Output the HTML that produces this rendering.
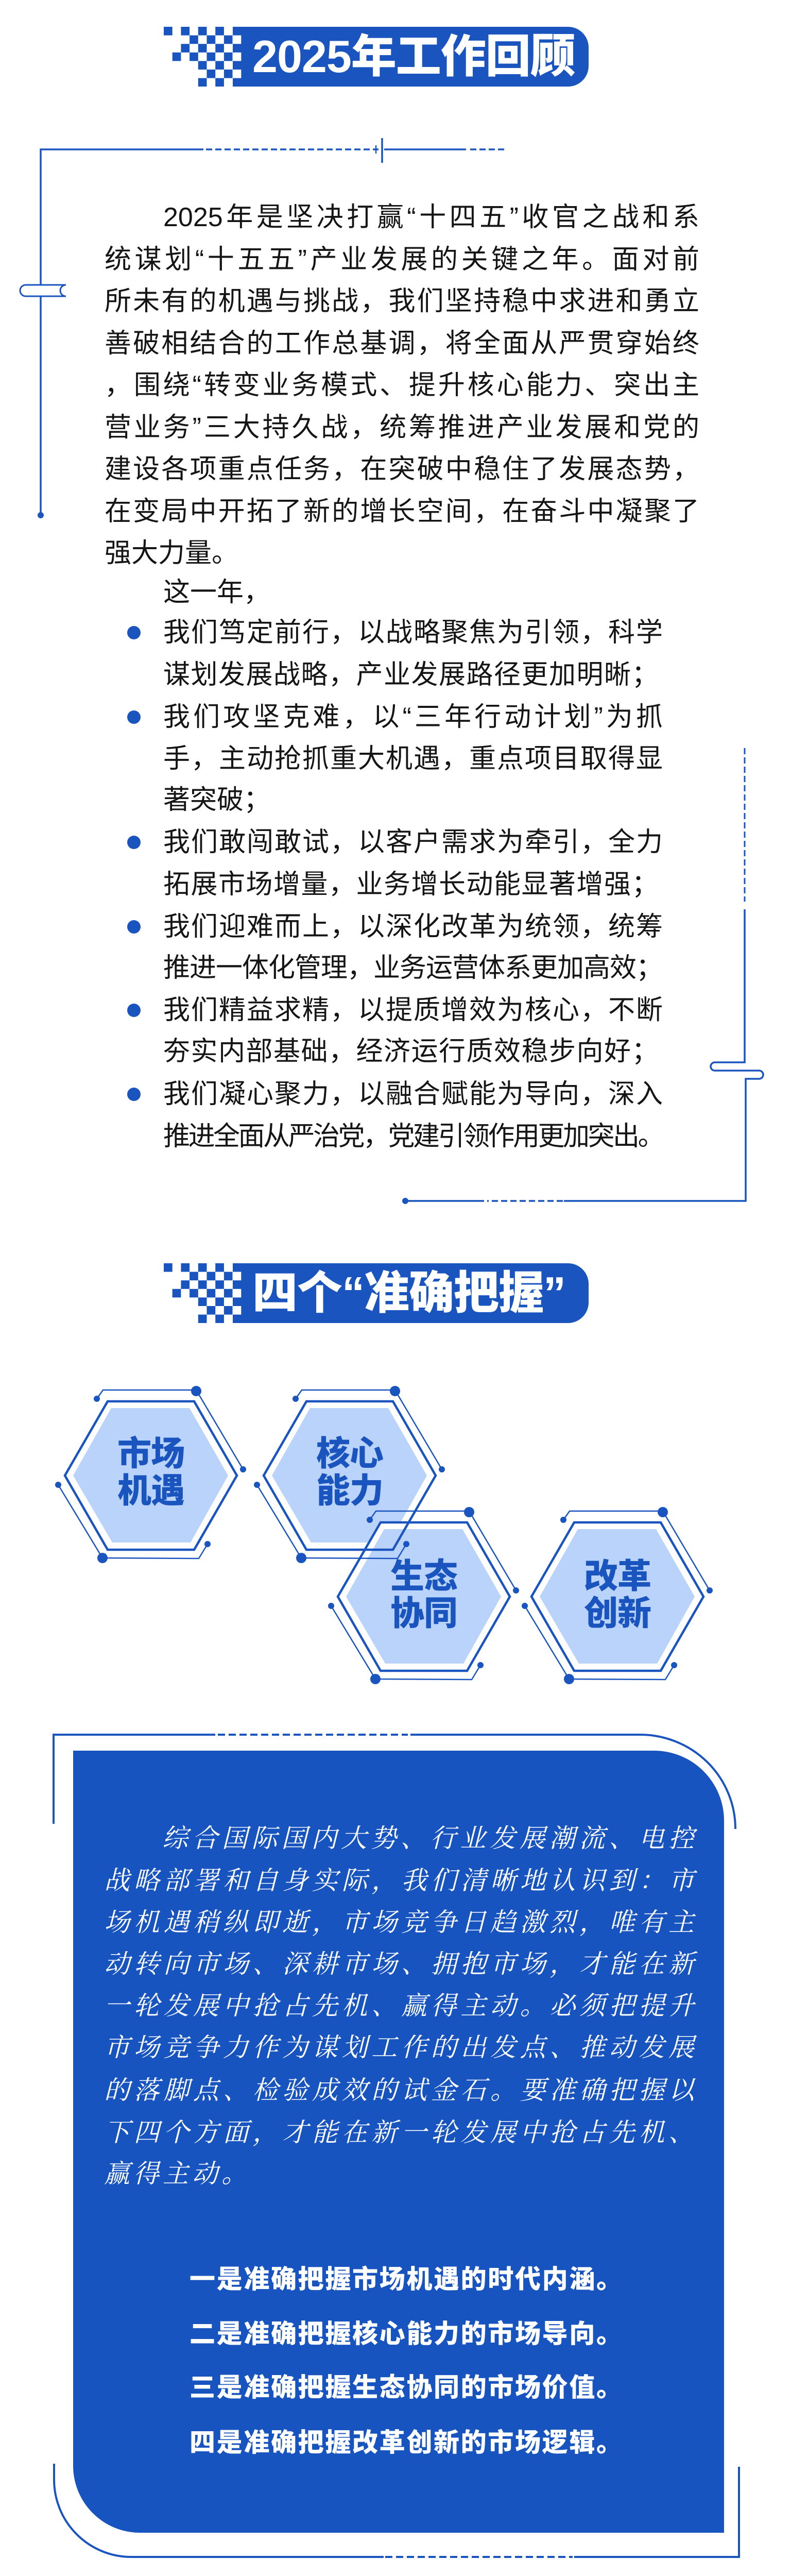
<!DOCTYPE html>
<html><head><meta charset="utf-8">
<style>
html{margin:0;padding:0;width:1536px;height:5045px;overflow:hidden;}
body{margin:0;padding:0;width:1536px;height:5045px;position:relative;background:#fff;overflow:hidden;font-family:"Liberation Sans","Noto Sans CJK SC",sans-serif;}
svg.bg{position:absolute;left:0;top:0;display:block;}
.t{position:absolute;white-space:nowrap;}
.p{font-size:52px;color:#151515;height:82px;line-height:82px;text-align:justify;text-align-last:justify;}
.p.l{text-align-last:left;}
.it{font-family:"Liberation Serif","Noto Serif CJK SC",serif;font-style:italic;font-size:50px;color:#fff;height:80px;line-height:80px;text-align:justify;text-align-last:justify;}
.it.l{text-align-last:left;}
.bd{font-weight:900;font-size:50px;color:#fff;height:80px;line-height:80px;text-align:justify;text-align-last:justify;width:840px;left:368px;}
.title{font-weight:900;color:#fff;font-size:88px;line-height:116px;height:116px;letter-spacing:-1px;}
.hx{font-weight:900;color:#1a55bf;font-size:66px;line-height:72px;text-align:center;width:200px;letter-spacing:-1px;}
</style></head><body>
<svg class="bg" width="1536" height="5045" viewBox="0 0 1536 5045">
<defs>
<g id="chk" fill="#1a55bf">
<path d="M134 0 H785 A40 40 0 0 1 825 40 V76 A40 40 0 0 1 785 116 H134 Z"/>
<rect x="0" y="0" width="16.7" height="16.6"/><rect x="33.4" y="0" width="16.7" height="16.6"/><rect x="66.8" y="0" width="16.7" height="16.6"/><rect x="100.2" y="0" width="16.7" height="16.6"/>
<rect x="50.1" y="16.6" width="16.7" height="16.6"/><rect x="83.5" y="16.6" width="16.7" height="16.6"/><rect x="116.9" y="16.6" width="16.7" height="16.6"/>
<rect x="33.4" y="33.2" width="16.7" height="16.6"/><rect x="66.8" y="33.2" width="16.7" height="16.6"/><rect x="100.2" y="33.2" width="16.7" height="16.6"/>
<rect x="16.7" y="49.8" width="16.7" height="16.6"/><rect x="50.1" y="49.8" width="16.7" height="16.6"/><rect x="83.5" y="49.8" width="16.7" height="16.6"/><rect x="116.9" y="49.8" width="16.7" height="16.6"/>
<rect x="66.8" y="66.4" width="16.7" height="16.6"/><rect x="100.2" y="66.4" width="16.7" height="16.6"/>
<rect x="83.5" y="83" width="16.7" height="16.6"/><rect x="116.9" y="83" width="16.7" height="16.6"/>
<rect x="66.8" y="99.6" width="16.7" height="16.4"/><rect x="100.2" y="99.6" width="16.7" height="16.4"/>
<rect x="133.6" y="16.6" width="16.7" height="16.6" fill="#fff"/><rect x="133.6" y="49.8" width="16.7" height="16.6" fill="#fff"/><rect x="133.6" y="83" width="16.7" height="16.6" fill="#fff"/>
</g>
<g id="hf"><polygon points="0,0 83,-144 251,-144 334,0 251,144 83,144" fill="#fff"/><polygon points="16,0 90,-131 242,-131 317,0 244,130 92,130" fill="#bad3fb"/></g>
<g id="hs"><g fill="none" stroke="#1a55bf"><polygon points="0,0 83,-144 251,-144 334,0 251,144 83,144" stroke-width="4.5"/><polyline points="62,-149 74,-166 255,-166 346,-12" stroke-width="2.5"/><polyline points="-13,18 73,160 260,161 277,133" stroke-width="2.5"/></g>
<g fill="#1a55bf"><circle cx="255" cy="-164" r="10"/><circle cx="62" cy="-149" r="6"/><circle cx="346" cy="-12" r="6"/><circle cx="73" cy="160" r="10"/><circle cx="277" cy="133" r="6"/><circle cx="-13" cy="18" r="6"/></g></g>
</defs>
<use href="#chk" transform="translate(318,52)"/>
<use href="#chk" transform="translate(318,2452)"/>
<g fill="none" stroke="#1a55bf" stroke-width="3.5">
<path d="M79 1000 V575 M79 553 V290 H395"/>
<path d="M79 575 H50 A11 11 0 0 1 50 553 H128 A11 11 0 0 0 128 575 H79" stroke-width="3"/>
<path d="M400 290 H735" stroke-dasharray="12 6"/>
<path d="M742 268 V316 M746 290 H905"/>
<path d="M730 282 V298" stroke-width="2.5"/>
<path d="M913 290 H980" stroke-dasharray="12 6"/>
<path d="M1446 1452 V1750" stroke-dasharray="12 6" stroke-width="3"/>
<path d="M1446 1765 V2062 H1388 A8 8 0 0 0 1388 2078 H1474 A8 8 0 0 1 1474 2094 H1448 V2331 H1095"/>
<path d="M1093 2331 H946" stroke-dasharray="12 6"/>
<path d="M940 2331 H787"/>
</g>
<circle cx="79" cy="1000" r="6" fill="#1a55bf"/>
<circle cx="787" cy="2331" r="6" fill="#1a55bf"/>
<g fill="#1a55bf">
<circle cx="260" cy="1228" r="13"/><circle cx="260" cy="1392" r="13"/><circle cx="260" cy="1635" r="13"/><circle cx="260" cy="1799" r="13"/><circle cx="260" cy="1961" r="13"/><circle cx="260" cy="2124" r="13"/>
</g>
<use href="#hf" transform="translate(126,2864)"/>
<use href="#hf" transform="translate(512,2864)"/>
<use href="#hf" transform="translate(656,3099)"/>
<use href="#hf" transform="translate(1032,3099)"/>
<use href="#hs" transform="translate(126,2864)"/>
<use href="#hs" transform="translate(512,2864)"/>
<use href="#hs" transform="translate(656,3099)"/>
<use href="#hs" transform="translate(1032,3099)"/>
<path d="M142 3398 H1270 A136 136 0 0 1 1406 3534 V4916 H272 A130 130 0 0 1 142 4786 Z" fill="#1854bf"/>
<g fill="none" stroke="#1a55bf" stroke-width="4">
<path d="M104 3540 V3367 H418"/>
<path d="M423 3367 H792" stroke-dasharray="14 7"/>
<path d="M797 3367 H1243 A185 183 0 0 1 1428 3550"/>
<path d="M105 4782 V4813 A150 150 0 0 0 255 4963 H745"/>
<path d="M748 4963 H1112" stroke-dasharray="14 7"/>
<path d="M1115 4963 H1435 V4788"/>
</g>
</svg>

<div class="t title" style="left:490px;top:52px;">2025年工作回顾</div>
<div class="t title" style="left:490px;top:2452px;">四个“准确把握”</div>

<div class="t p" style="left:317px;top:381px;width:1041px;">2025年是坚决打赢“十四五”收官之战和系</div>
<div class="t p" style="left:203px;top:463px;width:1155px;">统谋划“十五五”产业发展的关键之年。面对前</div>
<div class="t p" style="left:203px;top:544px;width:1155px;">所未有的机遇与挑战，我们坚持稳中求进和勇立</div>
<div class="t p" style="left:203px;top:626px;width:1155px;">善破相结合的工作总基调，将全面从严贯穿始终</div>
<div class="t p" style="left:203px;top:707px;width:1155px;">，围绕“转变业务模式、提升核心能力、突出主</div>
<div class="t p" style="left:203px;top:789px;width:1155px;">营业务”三大持久战，统筹推进产业发展和党的</div>
<div class="t p" style="left:203px;top:870px;width:1155px;">建设各项重点任务，在突破中稳住了发展态势，</div>
<div class="t p" style="left:203px;top:952px;width:1155px;">在变局中开拓了新的增长空间，在奋斗中凝聚了</div>
<div class="t p l" style="left:203px;top:1033px;width:1155px;">强大力量。</div>
<div class="t p l" style="left:317px;top:1109px;width:600px;">这一年，</div>

<div class="t p" style="left:317px;top:1187px;width:970px;">我们笃定前行，以战略聚焦为引领，科学</div>
<div class="t p l" style="left:317px;top:1269px;width:970px;letter-spacing:1.5px;">谋划发展战略，产业发展路径更加明晰；</div>
<div class="t p" style="left:317px;top:1351px;width:970px;">我们攻坚克难，以“三年行动计划”为抓</div>
<div class="t p" style="left:317px;top:1432px;width:970px;">手，主动抢抓重大机遇，重点项目取得显</div>
<div class="t p l" style="left:317px;top:1512px;width:970px;">著突破；</div>
<div class="t p" style="left:317px;top:1594px;width:970px;">我们敢闯敢试，以客户需求为牵引，全力</div>
<div class="t p l" style="left:317px;top:1676px;width:970px;letter-spacing:1.5px;">拓展市场增量，业务增长动能显著增强；</div>
<div class="t p" style="left:317px;top:1758px;width:970px;">我们迎难而上，以深化改革为统领，统筹</div>
<div class="t p l" style="left:317px;top:1838px;width:980px;letter-spacing:-1px;">推进一体化管理，业务运营体系更加高效；</div>
<div class="t p" style="left:317px;top:1920px;width:970px;">我们精益求精，以提质增效为核心，不断</div>
<div class="t p l" style="left:317px;top:2000px;width:970px;letter-spacing:1.5px;">夯实内部基础，经济运行质效稳步向好；</div>
<div class="t p" style="left:317px;top:2083px;width:970px;">我们凝心聚力，以融合赋能为导向，深入</div>
<div class="t p l" style="left:317px;top:2165px;width:980px;letter-spacing:-3.5px;">推进全面从严治党，党建引领作用更加突出。</div>

<div class="t hx" style="left:193px;top:2785px;">市场<br>机遇</div>
<div class="t hx" style="left:579px;top:2785px;">核心<br>能力</div>
<div class="t hx" style="left:723px;top:3023px;">生态<br>协同</div>
<div class="t hx" style="left:1099px;top:3023px;">改革<br>创新</div>

<div class="t it" style="left:315px;top:3528px;width:1033px;">综合国际国内大势、行业发展潮流、电控</div>
<div class="t it" style="left:202px;top:3610px;width:1146px;">战略部署和自身实际，我们清晰地认识到：市</div>
<div class="t it" style="left:202px;top:3691px;width:1146px;">场机遇稍纵即逝，市场竞争日趋激烈，唯有主</div>
<div class="t it" style="left:202px;top:3772px;width:1146px;">动转向市场、深耕市场、拥抱市场，才能在新</div>
<div class="t it" style="left:202px;top:3853px;width:1146px;">一轮发展中抢占先机、赢得主动。必须把提升</div>
<div class="t it" style="left:202px;top:3934px;width:1146px;">市场竞争力作为谋划工作的出发点、推动发展</div>
<div class="t it" style="left:202px;top:4017px;width:1146px;">的落脚点、检验成效的试金石。要准确把握以</div>
<div class="t it" style="left:202px;top:4099px;width:1146px;">下四个方面，才能在新一轮发展中抢占先机、</div>
<div class="t it l" style="left:202px;top:4179px;width:1146px;letter-spacing:7px;">赢得主动。</div>

<div class="t bd" style="top:4384px;">一是准确把握市场机遇的时代内涵。</div>
<div class="t bd" style="top:4490px;">二是准确把握核心能力的市场导向。</div>
<div class="t bd" style="top:4594px;">三是准确把握生态协同的市场价值。</div>
<div class="t bd" style="top:4701px;">四是准确把握改革创新的市场逻辑。</div>
</body></html>
